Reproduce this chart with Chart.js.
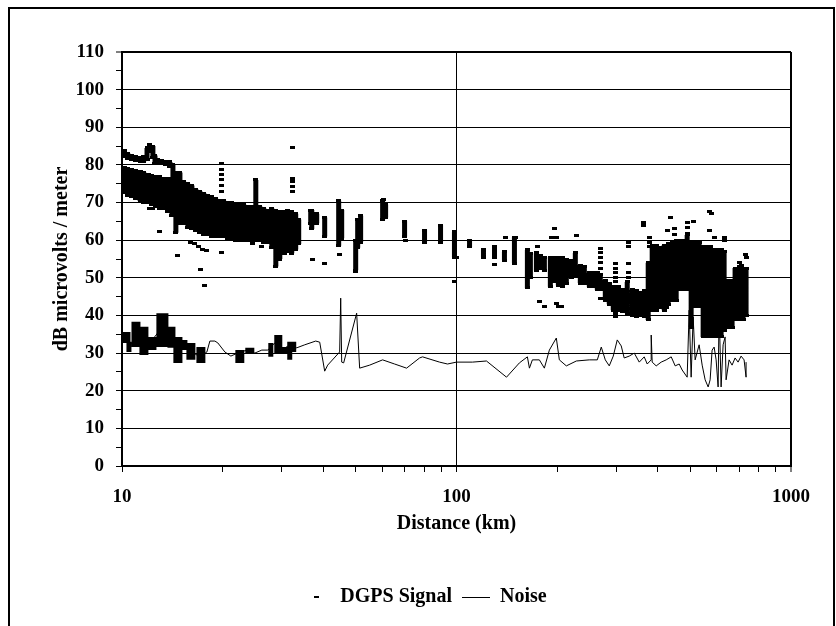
<!DOCTYPE html>
<html><head><meta charset="utf-8">
<script src="https://cdn.jsdelivr.net/npm/chart.js@4.4.1/dist/chart.umd.min.js"></script>
<style>html,body{margin:0;padding:0;background:#fff;overflow:hidden}canvas{display:block}</style>
</head><body>
<canvas id="c" width="836" height="626"></canvas>
<script>
// ---- axis ticks ----
const xTickValues = [10,20,30,40,50,60,70,80,90,100,200,300,400,500,600,700,800,900,1000];
const xLabelValues = [10,100,1000];

// ---- DGPS Signal: dense vertical streaks (distance km, low dB, high dB) ----
const sigColDist = [10.14,10.42,10.71,11.01,11.32,11.63,11.88,12.12,12.37,12.55,12.81,13.16,13.53,13.91,14.20,
  10.14,10.42,10.71,11.01,11.32,11.63,11.96,12.29,12.63,12.98,13.35,13.72,14.10,14.49,14.90,15.31,15.74,16.18,16.63,17.10,17.57,18.06,18.56,19.08,19.61,20.16,20.72,21.30,21.89,22.50,23.13,23.77,24.44,25.12,25.82,26.54,27.29,28.04,28.83,29.63,30.46,31.30,32.17,33.06,33.75,
  36.66,36.92,38.20,40.36,44.44,45.37,49.96,50.65,51.69,60.14,61.39,69.95,80.25,89.6,98.6,109.4,120.4,129.9,139.1,149.0,
  162.9,166.3,173.3,178.1,183.1,190.8,196.1,201.6,207.2,213.0,220.4,226.6,234.5,241.1,249.5,256.4,263.6,269.1,278.5,286.2,294.2,304.5,313.0,323.9,335.3,344.6,354.3,364.1,374.2,
  384.6,395.4,406.4,417.8,429.4,441.4,453.7,466.3,479.3,489.3,502.9,516.9,531.3,546.2,561.4,573.1,589.1,605.5,618.1,631.0,648.6,666.6,680.5,699.5,719.0,734.0];
const sigColLow = [82.2,81.8,81.4,81.2,81.0,81.0,81.5,83.5,82.0,80.5,80.3,80.3,80.0,79.5,76.5,
  72.8,72.0,71.5,71.0,70.5,70.0,70.0,69.5,69.0,68.5,68.5,67.5,66.5,62.0,64.5,64.5,63.5,63.0,62.5,62.0,61.5,61.5,61.0,61.0,61.0,61.0,60.5,60.5,60.0,60.0,60.0,60.0,60.0,60.0,60.0,59.5,59.5,58.0,53.0,55.0,56.5,57.0,56.5,57.5,59.0,
  64.5,63.0,64.5,61.0,58.5,60.5,52.0,58.0,59.5,65.5,66.0,61.0,59.3,59.5,55.5,58.2,55.3,55.5,54.7,53.9,
  47.3,50.0,52.0,52.5,52.0,47.6,49.0,48.0,47.6,48.5,50.2,50.5,48.6,48.6,47.6,47.6,46.8,46.8,44.1,43.0,41.4,41.4,41.0,40.6,40.0,39.6,40.0,39.6,38.8,
  41.4,41.4,42.0,41.4,43.0,44.0,44.1,46.8,46.8,46.8,36.9,42.3,42.3,34.3,34.3,34.3,34.3,34.3,34.3,36.1,36.9,36.9,38.8,38.8,38.8,40.0];
const sigColHigh = [83.8,83.0,82.4,82.2,82.0,82.2,84.5,85.3,85.0,82.5,81.5,81.3,81.0,80.8,80.0,
  79.4,79.0,78.8,78.5,78.2,78.0,77.5,77.3,77.0,76.8,76.5,76.3,76.0,78.0,78.0,75.5,75.0,74.5,73.5,73.0,72.5,72.0,71.5,71.0,70.5,70.5,70.0,70.0,69.5,69.5,69.5,69.0,69.0,76.0,69.0,68.5,68.0,68.5,68.0,67.5,67.5,68.0,67.5,67.0,65.5,
  68.0,68.0,67.0,66.0,70.5,68.0,60.0,65.5,66.5,70.5,69.5,65.0,62.7,64.0,62.2,60.0,57.4,58.2,56.9,60.8,
  57.4,56.5,56.6,56.0,55.5,55.5,55.5,55.5,55.3,55.0,54.7,56.6,53.4,53.0,51.3,51.3,51.3,51.0,49.4,48.5,47.6,47.6,47.0,48.9,46.8,46.5,46.0,46.5,54.0,
  58.7,58.7,58.0,58.7,59.0,59.3,60.0,60.0,60.0,61.4,59.3,59.3,59.3,58.2,58.2,58.2,57.4,57.4,57.4,56.9,49.4,49.4,52.6,52.6,52.6,52.6];

// ---- DGPS Signal: isolated readings (distance km, dB) ----
const sigPtDist = [12.12,12.37,12.98,14.70,16.07,16.52,16.98,17.45,17.94,17.22,17.69,19.89,19.89,19.89,19.89,19.89,19.89,19.89,20.58,
  23.77,24.60,26.18,29.63,30.67,31.73,32.39,32.39,32.39,32.39,32.39,37.17,40.36,44.75,49.96,60.55,70.43,98.6,100.0,129.9,140.1,150.1,
  174.5,176.9,183.1,198.8,201.6,196.1,198.8,192.1,205.8,228.2,269.1,269.1,269.1,269.1,269.1,269.1,298.3,298.3,298.3,298.3,298.3,298.3,298.3,
  326.2,326.2,326.2,326.2,326.2,361.6,361.6,376.8,376.8,376.8,423.5,426.5,435.4,447.5,447.5,489.3,489.3,489.3,509.9,569.2,577.0,569.2,589.1,
  631.0,631.0,699.5,699.5,714.1,729.0,734.0,709.2];
const sigPtVal = [68.3,68.3,62.3,55.8,59.5,59.0,58.2,57.6,57.3,52.3,48.0,80.5,78.8,77.5,76.0,74.5,73.0,56.7,61.0,
  60.8,59.2,58.2,57.0,56.5,57.5,84.5,76.5,75.5,74.2,73.0,54.8,53.8,56.1,51.8,70.7,59.8,48.9,55.3,53.6,60.8,60.6,
  58.2,43.6,42.5,43.2,42.4,63.2,60.6,60.6,42.3,61.2,57.9,56.6,55.3,54.0,52.6,44.6,53.9,52.5,51.3,50.0,48.9,40.6,39.6,
  59.5,58.2,53.8,51.3,50.2,64.6,63.8,60.8,59.5,58.2,42.0,62.5,66.0,63.2,61.4,64.6,63.5,61.9,64.9,67.5,67.2,62.7,60.6,
  60.8,60.0,54.2,52.9,45.0,56.1,55.5,53.4];

// ---- Noise: dense oscillation blocks (distance km, low dB, high dB) ----
const noiseBandDist = [10.14,10.42,10.49,10.86,11.16,11.47,11.79,12.12,12.46,12.89,13.26,13.53,13.91,14.20,14.49,14.90,15.42,15.85,16.29,16.98,17.45,22.20,22.81,23.77,24.44,27.85,29.02,29.63,30.67,31.73,32.61];
const noiseBandLow  = [32.7,32.7,30.3,31.6,31.6,29.5,29.5,30.8,30.8,31.6,31.6,31.6,31.4,31.4,27.4,27.4,30.8,28.2,28.2,27.4,27.4,27.4,27.4,30.0,30.0,29.0,30.0,30.0,30.0,28.2,30.3];
const noiseBandHigh = [35.6,35.6,33.0,38.3,38.3,37.0,37.0,34.3,34.3,40.6,40.6,40.6,37.0,37.0,34.3,34.3,33.5,32.7,32.7,31.6,31.6,30.8,30.8,31.4,31.4,32.7,34.8,34.8,31.6,33.0,33.0];

// ---- Noise trace (distance km, dB) ----
const noiseDist = [10.0,10.57,11.32,12.12,12.98,13.91,14.70,15.42,16.18,17.10,17.94,18.31,18.95,19.34,20.30,21.16,22.50,23.77,24.95,26.18,27.29,28.63,30.04,31.73,33.30,35.18,37.94,39.00,40.36,41.20,44.74,45.06,45.37,45.99,50.29,51.34,55.00,60.14,65.30,70.92,77.55,79.16,88.99,94.0,100.0,111.6,122.9,141.1,154.2,162.9,165.2,168.6,176.9,183.1,189.5,198.8,203.0,213.0,228.2,249.5,263.6,270.9,278.5,286.2,294.2,302.4,310.8,317.2,328.4,339.9,351.8,364.1,371.7,382.0,382.0,384.6,395.4,409.2,423.5,438.4,450.6,463.1,472.8,489.3,496.1,502.9,509.9,516.9,531.3,542.5,553.8,565.4,573.1,581.0,589.1,597.3,605.5,609.7,618.1,626.7,635.3,639.7,653.0,666.6,680.5,694.7,709.2,724.0,734.0,734.0];
const noiseVal = [34.3,32.2,34.8,32.7,36.1,33.5,30.8,32.2,30.3,29.0,30.3,33.2,33.2,32.7,30.3,29.2,30.3,30.8,30.0,30.8,30.8,32.7,30.8,32.2,31.4,32.2,33.2,32.9,25.2,26.8,30.3,44.6,27.6,27.4,40.6,26.0,26.8,28.2,27.1,26.0,28.7,29.0,27.6,27.1,27.6,27.6,27.9,23.6,27.4,29.0,26.0,28.2,28.2,26.0,30.8,34.0,28.2,26.6,27.9,28.2,28.2,31.6,28.2,26.6,29.2,33.5,31.9,28.7,29.2,30.0,27.6,29.0,27.1,28.2,34.8,27.6,26.6,27.6,28.2,29.0,26.6,27.1,25.5,23.6,41.4,23.6,39.6,28.2,32.2,26.8,22.9,21.0,22.9,30.8,31.6,28.2,21.0,41.4,21.0,32.2,34.3,22.9,28.2,26.8,28.7,27.6,29.2,28.2,23.6,27.6];

// ---- build datasets ----
function streaks(dist, lo, hi) {
  const groups = dist.map((d, i) => [d, [{x: d, y: lo[i]}, {x: d, y: hi[i]}, {x: d, y: null}]]);
  return groups;
}
const sigGroups = streaks(sigColDist, sigColLow, sigColHigh)
  .concat(sigPtDist.map((d, i) => [d, [{x: d, y: sigPtVal[i]}, {x: d, y: null}]]));
sigGroups.sort((a, b) => a[0] - b[0]);
const signalData = [].concat(...sigGroups.map(g => g[1]));
const bandData = [].concat(...streaks(noiseBandDist, noiseBandLow, noiseBandHigh).map(g => g[1]));
const noiseData = noiseDist.map((d, i) => ({x: d, y: noiseVal[i]}));

function mk(w, h) { const c = document.createElement('canvas'); c.width = w; c.height = h;
  const g = c.getContext('2d'); g.fillStyle = '#000'; g.fillRect(0, 0, w, h); return c; }
const markImg = mk(5, 3);
const legendDash = mk(5, 2);
const legendLine = mk(28, 1);

const FONT = "'Liberation Serif','Times New Roman',serif";

const frame = {
  id: 'frame',
  afterLayout(chart) { if (chart.legend) { chart.legend.left += 29; chart.legend.right += 29; } },
  beforeDraw(chart) { const c = chart.ctx; c.save(); c.fillStyle = '#fff'; c.fillRect(0, 0, chart.width, chart.height); c.restore(); },
  afterDraw(chart) { const c = chart.ctx; c.save(); c.strokeStyle = '#000'; c.lineWidth = 2;
    c.strokeRect(9, 8, 825, 640); c.restore(); }
};

new Chart(document.getElementById('c'), {
  type: 'line',
  data: { datasets: [
    { label: 'DGPS Signal', data: signalData, showLine: true, spanGaps: false, borderColor: '#000', borderWidth: 5,
      borderCapStyle: 'butt', pointStyle: markImg, pointRadius: 3, pointHoverRadius: 3, tension: 0 },
    { label: 'Noise band', data: bandData, showLine: true, spanGaps: false, borderColor: '#000', borderWidth: 5,
      borderCapStyle: 'butt', pointRadius: 0, tension: 0 },
    { label: 'Noise', data: noiseData, borderColor: '#000', borderWidth: 1, pointRadius: 0, tension: 0, fill: false }
  ]},
  options: {
    responsive: false, devicePixelRatio: 1, animation: false,
    layout: { padding: { left: 0, right: 45, top: 52, bottom: 9 } },
    plugins: {
      tooltip: { enabled: false },
      legend: {
        position: 'bottom',
        labels: {
          usePointStyle: true, pointStyleWidth: 28, padding: 10, color: '#000',
          font: { family: FONT, size: 20, weight: 'bold' },
          generateLabels: () => [
            { text: 'DGPS Signal', pointStyle: legendDash, datasetIndex: 0, hidden: false, fontColor: '#000', lineWidth: 0 },
            { text: 'Noise', pointStyle: legendLine, datasetIndex: 2, hidden: false, fontColor: '#000', lineWidth: 0 }
          ]
        }
      }
    },
    scales: {
      x: {
        type: 'logarithmic', min: 10, max: 1000,
        afterBuildTicks: (s) => { s.ticks = xTickValues.map(v => ({ value: v })); },
        afterFit: (s) => { s.height = 111; },
        border: { display: true, color: '#000', width: 2 },
        grid: {
          color: (c) => (c.tick && xLabelValues.includes(c.tick.value)) ? '#000' : 'rgba(0,0,0,0)',
          lineWidth: (c) => (c.tick && c.tick.value === 1000) ? 2 : 1,
          tickColor: '#000', tickWidth: 1, tickLength: 6, drawTicks: true
        },
        ticks: {
          autoSkip: false, maxRotation: 0, padding: 14, color: '#000',
          font: { family: FONT, size: 19, weight: 'bold' },
          callback: (v) => xLabelValues.includes(v) ? String(v) : ''
        },
        title: { display: true, text: 'Distance (km)', color: '#000',
          font: { family: FONT, size: 20, weight: 'bold' }, padding: { top: 0, bottom: 41 } }
      },
      y: {
        min: 0, max: 110,
        afterFit: (s) => { s.width = 122; },
        border: { display: true, color: '#000', width: 2 },
        grid: {
          color: (c) => (c.tick && c.tick.value % 10 === 0) ? '#000' : 'rgba(0,0,0,0)',
          lineWidth: (c) => (c.tick && c.tick.value === 110) ? 2 : 1,
          tickColor: '#000', tickWidth: 1, tickLength: 6, drawTicks: true
        },
        ticks: {
          stepSize: 5, autoSkip: false, padding: 12, color: '#000',
          font: { family: FONT, size: 19, weight: 'bold' },
          callback: (v) => v % 10 === 0 ? String(v) : ''
        },
        title: { display: true, text: 'dB microvolts / meter', color: '#000',
          font: { family: FONT, size: 20, weight: 'bold' }, padding: { top: 50, bottom: 0 } }
      }
    }
  },
  plugins: [frame]
});
</script>
</body></html>
